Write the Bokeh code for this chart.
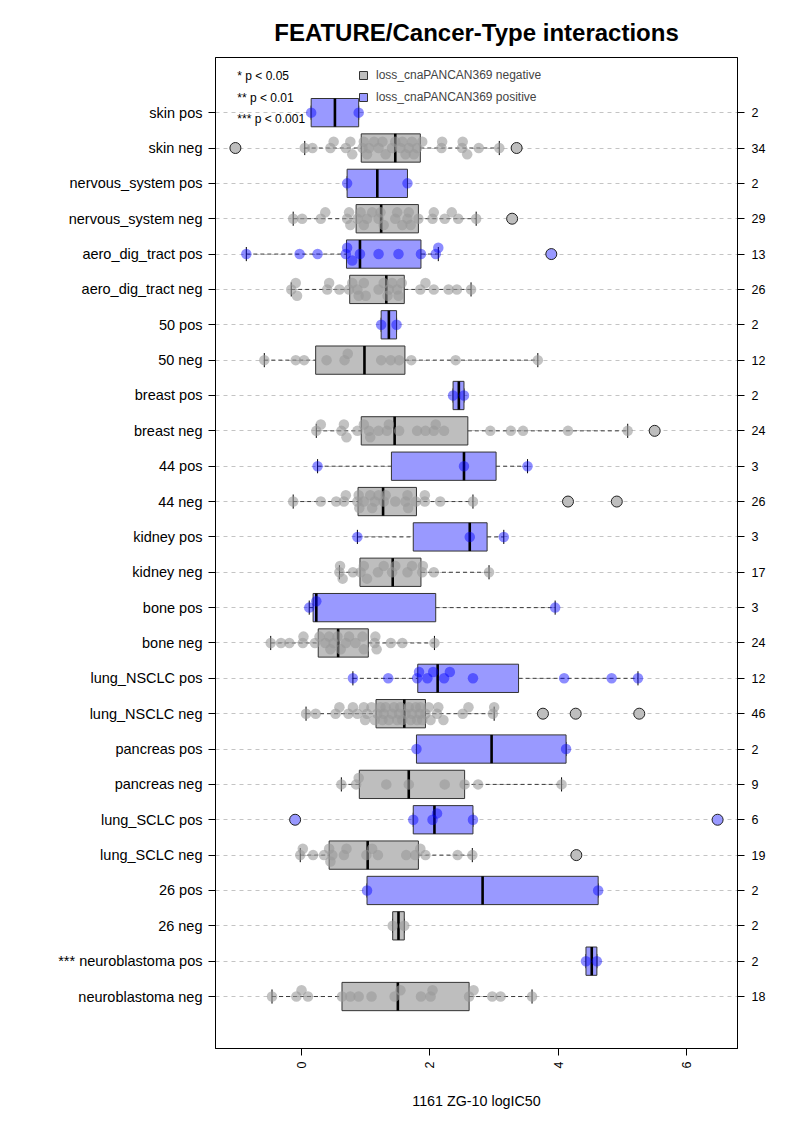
import numpy as np
from bokeh.plotting import figure
from bokeh.models import Range1d, FixedTicker, LinearAxis, Legend, LegendItem, Label, ColumnDataSource
from bokeh.embed import file_html
from bokeh.resources import INLINE

# ---------------- data (top row first) ----------------
groups = ["skin pos", "skin neg", "nervous_system pos", "nervous_system neg",
          "aero_dig_tract pos", "aero_dig_tract neg", "50 pos", "50 neg",
          "breast pos", "breast neg", "44 pos", "44 neg", "kidney pos", "kidney neg",
          "bone pos", "bone neg", "lung_NSCLC pos", "lung_NSCLC neg",
          "pancreas pos", "pancreas neg", "lung_SCLC pos", "lung_SCLC neg",
          "26 pos", "26 neg", "neuroblastoma pos", "neuroblastoma neg"]
signif = [""] * 24 + ["***", ""]
counts = [2, 34, 2, 29, 13, 26, 2, 12, 2, 24, 3, 26, 3, 17, 3, 24, 12, 46, 2, 9, 6, 19, 2, 2, 2, 18]

q1  = [0.15, 0.93, 0.71, 0.85, 0.70, 0.75, 1.24, 0.22, 2.36, 0.93, 1.40, 0.88, 1.74, 0.91,
       0.18, 0.26, 1.81, 1.16, 1.79, 0.90, 1.74, 0.43, 1.02, 1.42, 4.43, 0.63]
med = [0.52, 1.46, 1.18, 1.24, 0.91, 1.32, 1.36, 0.98, 2.45, 1.45, 2.53, 1.27, 2.62, 1.42,
       0.23, 0.57, 2.12, 1.60, 2.96, 1.67, 2.07, 1.03, 2.82, 1.51, 4.52, 1.50]
q3  = [0.89, 1.85, 1.65, 1.82, 1.86, 1.60, 1.48, 1.61, 2.53, 2.59, 3.03, 1.79, 2.89, 1.86,
       2.09, 1.04, 3.38, 1.93, 4.12, 2.54, 2.67, 1.82, 4.62, 1.60, 4.60, 2.61]
wlo = [0.15, 0.05, 0.71, -0.13, -0.86, -0.16, 1.24, -0.58, 2.36, 0.23, 0.25, -0.13, 0.87, 0.59,
       0.12, -0.48, 0.80, 0.07, 1.79, 0.62, 1.74, -0.02, 1.02, 1.42, 4.43, -0.46]
whi = [0.89, 3.08, 1.65, 2.72, 2.13, 2.64, 1.48, 3.68, 2.53, 5.08, 3.52, 2.67, 3.15, 2.92,
       3.95, 2.07, 5.24, 3.00, 4.12, 4.05, 2.67, 2.66, 4.62, 1.60, 4.60, 3.59]

skin_pos = [0.15, 0.89]
skin_neg = [-1.03, 0.05, 0.17, 0.45, 0.50, 0.69, 0.76, 0.79, 0.95, 0.97, 1.02, 1.05, 1.13, 1.20,
            1.26, 1.31, 1.41, 1.46, 1.54, 1.57, 1.62, 1.67, 1.72, 1.75, 1.80, 1.88, 2.18, 2.19,
            2.50, 2.51, 2.58, 2.76, 3.08, 3.35]
nerv_pos = [0.71, 1.65]
nerv_neg = [-0.13, 0.01, 0.30, 0.37, 0.71, 0.74, 0.76, 0.87, 0.92, 0.97, 1.02, 1.10, 1.20, 1.23,
            1.28, 1.46, 1.49, 1.57, 1.65, 1.67, 1.70, 1.82, 2.04, 2.06, 2.23, 2.34, 2.44, 2.72, 3.28]
aero_pos = [-0.86, -0.03, 0.25, 0.69, 0.71, 0.79, 0.91, 1.20, 1.51, 1.86, 2.09, 2.13, 3.89]
aero_neg = [-0.16, -0.09, -0.07, 0.40, 0.43, 0.59, 0.74, 0.79, 0.87, 0.89, 0.97, 1.00, 1.20,
            1.28, 1.34, 1.36, 1.41, 1.49, 1.51, 1.56, 1.85, 1.93, 2.06, 2.29, 2.42, 2.64]
g50_pos = [1.24, 1.48]
g50_neg = [-0.58, -0.09, 0.04, 0.39, 0.67, 0.72, 1.24, 1.39, 1.52, 1.71, 2.40, 3.68]
breast_pos = [2.36, 2.53]
breast_neg = [0.23, 0.30, 0.62, 0.66, 0.70, 0.87, 0.97, 1.05, 1.07, 1.20, 1.33, 1.36, 1.52,
              1.80, 1.93, 2.06, 2.09, 2.22, 2.94, 3.26, 3.45, 4.15, 5.08, 5.50]
g44_pos = [0.25, 2.53, 3.52]
g44_neg = [-0.13, 0.30, 0.54, 0.66, 0.69, 0.87, 0.89, 0.90, 0.97, 1.07, 1.10, 1.14, 1.20, 1.28,
           1.31, 1.46, 1.62, 1.65, 1.66, 1.78, 1.92, 1.92, 2.16, 2.67, 4.15, 4.91]
kidney_pos = [0.87, 2.62, 3.15]
kidney_neg = [0.59, 0.60, 0.64, 0.80, 0.92, 0.97, 1.02, 1.19, 1.28, 1.41, 1.46, 1.65, 1.72,
              1.88, 1.89, 2.06, 2.92]
bone_pos = [0.12, 0.23, 3.95]
bone_neg = [-0.48, -0.32, -0.19, 0.02, 0.03, 0.21, 0.28, 0.37, 0.43, 0.45, 0.50, 0.56, 0.61,
            0.69, 0.74, 0.84, 0.95, 0.97, 1.14, 1.15, 1.17, 1.39, 1.57, 2.07]
nsclc_pos = [0.80, 1.35, 1.80, 1.83, 1.96, 2.05, 2.22, 2.31, 2.67, 4.09, 4.83, 5.24]
nsclc_neg = [0.07, 0.22, 0.53, 0.59, 0.73, 0.80, 0.87, 0.97, 0.99, 1.02, 1.09, 1.14, 1.18, 1.23,
             1.26, 1.28, 1.31, 1.36, 1.41, 1.44, 1.49, 1.52, 1.54, 1.57, 1.62, 1.67, 1.70, 1.72,
             1.78, 1.80, 1.84, 1.85, 1.88, 1.93, 1.98, 2.01, 2.11, 2.13, 2.21, 2.51, 2.60, 2.98,
             3.00, 3.76, 4.27, 5.26]
pancreas_pos = [1.79, 4.12]
pancreas_neg = [0.62, 0.85, 0.89, 1.32, 1.67, 2.23, 2.54, 2.75, 4.05]
sclc_pos = [-0.10, 1.74, 2.04, 2.11, 2.67, 6.48]
sclc_neg = [-0.02, 0.02, 0.18, 0.35, 0.43, 0.45, 0.48, 0.66, 0.70, 1.01, 1.10, 1.19, 1.63, 1.77,
            1.85, 1.93, 2.43, 2.66, 4.28]
g26_pos = [1.02, 4.62]
g26_neg = [1.42, 1.60]
neuro_pos = [4.43, 4.60]
neuro_neg = [-0.46, -0.08, 0.00, 0.10, 0.63, 0.76, 0.89, 1.09, 1.45, 1.54, 1.86, 2.01, 2.04,
             2.61, 2.68, 2.97, 3.10, 3.59]

values = [skin_pos, skin_neg, nerv_pos, nerv_neg, aero_pos, aero_neg, g50_pos, g50_neg,
          breast_pos, breast_neg, g44_pos, g44_neg, kidney_pos, kidney_neg, bone_pos, bone_neg,
          nsclc_pos, nsclc_neg, pancreas_pos, pancreas_neg, sclc_pos, sclc_neg,
          g26_pos, g26_neg, neuro_pos, neuro_neg]

x_ticks = [0, 2, 4, 6]

# ---------------- layout ----------------
FONT = "Liberation Sans"
n = len(groups)
ys = [n - i for i in range(n)]
is_pos = [g.endswith("pos") for g in groups]
NEG_BOX, POS_BOX = "#BEBEBE", "#9999FF"

X0, X1 = -1.34, 6.79
Y0, Y1 = -0.47, 27.56
W, H = 777, 1112
ML, MT = 215, 57
FRAME_W, FRAME_H = 522, 991
MR = W - ML - FRAME_W
MB = H - MT - FRAME_H
px_x = FRAME_W / (X1 - X0)
px_y = FRAME_H / (Y1 - Y0)

p = figure(width=W, height=H, x_range=Range1d(X0, X1), y_range=Range1d(Y0, Y1),
           output_backend="svg", toolbar_location=None,
           min_border_left=ML, min_border_right=MR, min_border_top=MT, min_border_bottom=MB)
p.outline_line_color = "black"
p.outline_line_width = 1
p.background_fill_color = "white"

p.title.text = "FEATURE/Cancer-Type interactions"
p.title.text_font = FONT
p.title.text_font_size = "24px"
p.title.text_font_style = "bold"
p.title.text_color = "black"
p.title.align = "center"
p.title.standoff = 24

# grids
p.xgrid.visible = False
p.ygrid.ticker = FixedTicker(ticks=ys)
p.ygrid.grid_line_color = "#C4C4C4"
p.ygrid.grid_line_dash = "4 4"
p.ygrid.grid_line_width = 1

# axes
def style_axis(ax, size):
    ax.major_label_text_font = FONT
    ax.major_label_text_font_size = size
    ax.major_label_text_color = "black"
    ax.axis_line_color = "black"
    ax.major_tick_line_color = "black"
    ax.major_tick_in = 0
    ax.major_tick_out = 7
    ax.minor_tick_line_color = None

p.yaxis.ticker = FixedTicker(ticks=ys)
p.yaxis.major_label_overrides = {y: (s + " " + g).strip() for y, g, s in zip(ys, groups, signif)}
style_axis(p.yaxis[0], "14.5px")
p.yaxis.major_label_standoff = 6

raxis = LinearAxis(ticker=FixedTicker(ticks=ys),
                   major_label_overrides={y: str(c) for y, c in zip(ys, counts)})
style_axis(raxis, "12.5px")
raxis.major_label_standoff = 7
p.add_layout(raxis, "right")

p.xaxis.ticker = FixedTicker(ticks=x_ticks)
style_axis(p.xaxis[0], "12.5px")
p.xaxis.major_label_orientation = np.pi / 2
p.xaxis.major_label_standoff = 6
p.xaxis.axis_label = "1161 ZG-10 logIC50"
p.xaxis.axis_label_text_font = FONT
p.xaxis.axis_label_text_font_size = "14.3px"
p.xaxis.axis_label_text_font_style = "normal"
p.xaxis.axis_label_text_color = "black"
p.xaxis.axis_label_standoff = 22

# whiskers
wsrc = ColumnDataSource(dict(x0=wlo + q3, x1=q1 + whi, y=ys + ys))
p.segment(x0="x0", x1="x1", y0="y", y1="y", source=wsrc,
          line_color="#3a3a3a", line_dash="4 3", line_width=1)
# staples
ssrc = ColumnDataSource(dict(x=wlo + whi, yb=[y - 0.2 for y in ys] * 2,
                             yt=[y + 0.2 for y in ys] * 2))
p.segment(x0="x", x1="x", y0="yb", y1="yt", source=ssrc, line_color="black", line_width=1)

# boxes
neg_idx = [i for i in range(n) if not is_pos[i]]
pos_idx = [i for i in range(n) if is_pos[i]]
rn = p.quad(left=[q1[i] for i in neg_idx], right=[q3[i] for i in neg_idx],
            bottom=[ys[i] - 0.4 for i in neg_idx], top=[ys[i] + 0.4 for i in neg_idx],
            fill_color=NEG_BOX, line_color="#333333", line_width=1)
rp = p.quad(left=[q1[i] for i in pos_idx], right=[q3[i] for i in pos_idx],
            bottom=[ys[i] - 0.4 for i in pos_idx], top=[ys[i] + 0.4 for i in pos_idx],
            fill_color=POS_BOX, line_color="#333333", line_width=1)
# medians
p.segment(x0=med, x1=med, y0=[y - 0.4 for y in ys], y1=[y + 0.4 for y in ys],
          line_color="black", line_width=2.6)

# swarm offsets (deterministic, collision based)
def swarm(vals, d=0.18, thr=7.5):
    order = np.argsort(vals, kind="stable")
    placed = []
    offs = [0.0] * len(vals)
    for k in order:
        best, bestscore = 0.0, -1.0
        for c in (0.0, d, -d):
            md = min([np.hypot((vals[k] - vx) * px_x, (c - vo) * px_y) for vx, vo in placed],
                     default=1e9)
            if md >= thr:
                best = c
                break
            if md > bestscore:
                bestscore, best = md, c
        offs[k] = best
        placed.append((vals[k], best))
    return offs

pts = {True: dict(x=[], y=[]), False: dict(x=[], y=[])}
outs = {True: dict(x=[], y=[]), False: dict(x=[], y=[])}
for i in range(n):
    inside = [v for v in values[i] if wlo[i] - 1e-6 <= v <= whi[i] + 1e-6]
    outside = [v for v in values[i] if not (wlo[i] - 1e-6 <= v <= whi[i] + 1e-6)]
    offs = swarm(inside)
    pts[is_pos[i]]["x"] += inside
    pts[is_pos[i]]["y"] += [ys[i] + o for o in offs]
    outs[is_pos[i]]["x"] += outside
    outs[is_pos[i]]["y"] += [ys[i]] * len(outside)

p.scatter(x=pts[False]["x"], y=pts[False]["y"], size=10.5, marker="circle",
          fill_color="#999999", fill_alpha=0.6, line_color=None)
p.scatter(x=pts[True]["x"], y=pts[True]["y"], size=10.5, marker="circle",
          fill_color="#0000FF", fill_alpha=0.45, line_color=None)
p.scatter(x=outs[False]["x"], y=outs[False]["y"], size=11, marker="circle",
          fill_color=NEG_BOX, line_color="#222222", line_width=1)
p.scatter(x=outs[True]["x"], y=outs[True]["y"], size=11, marker="circle",
          fill_color=POS_BOX, line_color="#222222", line_width=1)

# legend
legend = Legend(items=[LegendItem(label="loss_cnaPANCAN369 negative", renderers=[rn]),
                       LegendItem(label="loss_cnaPANCAN369 positive", renderers=[rp])],
                location=(143, 944), orientation="vertical",
                glyph_width=10, glyph_height=10, label_height=10, spacing=8,
                label_standoff=8, padding=0, margin=0,
                border_line_color=None, background_fill_alpha=0,
                label_text_font=FONT, label_text_font_size="12px")
p.add_layout(legend, "center")

sig_text = ["* p < 0.05", "** p < 0.01", "*** p < 0.001"]
sig_y = [27.05, 26.42, 25.83]
for t, yy in zip(sig_text, sig_y):
    p.add_layout(Label(x=-1.0, y=yy, text=t, text_baseline="middle", text_align="left",
                       text_font=FONT, text_font_size="12px", text_color="black"))

open("out.html", "w").write(file_html(p, INLINE))
